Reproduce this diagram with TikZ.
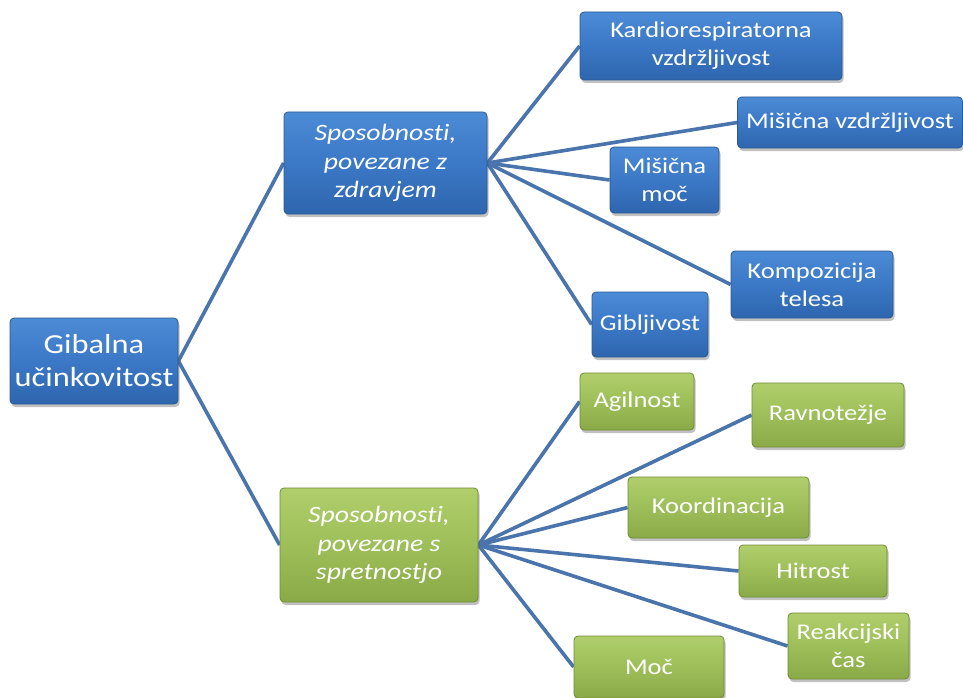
\documentclass[tikz,border=0pt]{standalone}
\usepackage{fontspec}
\setmainfont{Carlito}[FakeStretch=1.18, Ligatures=NoCommon]
\usetikzlibrary{shadows,backgrounds}
\definecolor{linkblue}{HTML}{4A74AC}
\definecolor{bluetop}{HTML}{4C8BD6}
\definecolor{bluemid}{HTML}{3B78C6}
\definecolor{bluebot}{HTML}{2E66AE}
\definecolor{blueedge}{HTML}{2A5A94}
\definecolor{greentop}{HTML}{B0CF6C}
\definecolor{greenmid}{HTML}{9DBE59}
\definecolor{greenbot}{HTML}{8AAA47}
\definecolor{greenedge}{HTML}{6F8C33}
\tikzset{
  x=1pt, y=-1pt,
  box/.style={rounded corners=4pt, align=center, text=white, inner sep=0pt,
    drop shadow={shadow xshift=1.5pt, shadow yshift=-3pt, opacity=0.35, fill=black!70}},
  bluebox/.style={box, draw=blueedge, line width=0.8pt,
    top color=bluetop, bottom color=bluebot, middle color=bluemid},
  greenbox/.style={box, draw=greenedge, line width=0.8pt,
    top color=greentop, bottom color=greenbot, middle color=greenmid},
  link/.style={draw=linkblue, line width=3.6pt},
  rootfont/.style={font=\fontsize{27.5}{33}\selectfont},
  midfont/.style={font=\fontsize{23.5}{28.5}\selectfont\itshape},
  leaffont/.style={font=\fontsize{22.5}{28}\selectfont},
}
\begin{document}
\begin{tikzpicture}
\useasboundingbox (0,0) rectangle (963,698);

% root
\node[bluebox, rootfont, minimum width=168pt, minimum height=86pt] (root) at (94,361)
  {Gibalna\\učinkovitost};

% two groups of abilities
\node[bluebox, midfont, minimum width=203pt, minimum height=102pt] (health) at (385.5,163)
  {Sposobnosti,\\povezane z\\zdravjem};
\node[greenbox, midfont, minimum width=198pt, minimum height=114pt] (skill) at (379,545)
  {Sposobnosti,\\povezane s\\spretnostjo};

% health-related abilities
\node[bluebox, leaffont, minimum width=262pt, minimum height=68pt] (kardio) at (711,46)
  {Kardiorespiratorna\\vzdržljivost};
\node[bluebox, leaffont, minimum width=225pt, minimum height=51pt] (misvz) at (850,122.5)
  {Mišična vzdržljivost};
\node[bluebox, leaffont, minimum width=109pt, minimum height=66pt] (mismoc) at (664.5,180)
  {Mišična\\moč};
\node[bluebox, leaffont, minimum width=162pt, minimum height=67pt] (kompo) at (812,284.5)
  {Kompozicija\\telesa};
\node[bluebox, leaffont, minimum width=116pt, minimum height=65pt] (gib) at (650,324.5)
  {Gibljivost};

% skill-related abilities
\node[greenbox, leaffont, minimum width=114pt, minimum height=57pt] (agil) at (637,401.5)
  {Agilnost};
\node[greenbox, leaffont, minimum width=152pt, minimum height=64pt] (ravno) at (828,415)
  {Ravnotežje};
\node[greenbox, leaffont, minimum width=181pt, minimum height=61pt] (koord) at (718.5,507.5)
  {Koordinacija};
\node[greenbox, leaffont, minimum width=148pt, minimum height=52pt] (hitr) at (813,571)
  {Hitrost};
\node[greenbox, leaffont, minimum width=121pt, minimum height=66pt] (reak) at (848.5,646)
  {Reakcijski\\čas};
\node[greenbox, leaffont, minimum width=150pt, minimum height=62pt] (moc) at (649,667)
  {Moč};

% connectors behind the boxes
\begin{scope}[on background layer]
\draw[link] (root.east) -- (health.west);
\draw[link] (root.east) -- (skill.west);
\foreach \n in {kardio,misvz,mismoc,kompo,gib}
  \draw[link] (health.east) -- (\n.west);
\foreach \n in {agil,ravno,koord,hitr,reak,moc}
  \draw[link] (skill.east) -- (\n.west);
\end{scope}
\end{tikzpicture}
\end{document}
